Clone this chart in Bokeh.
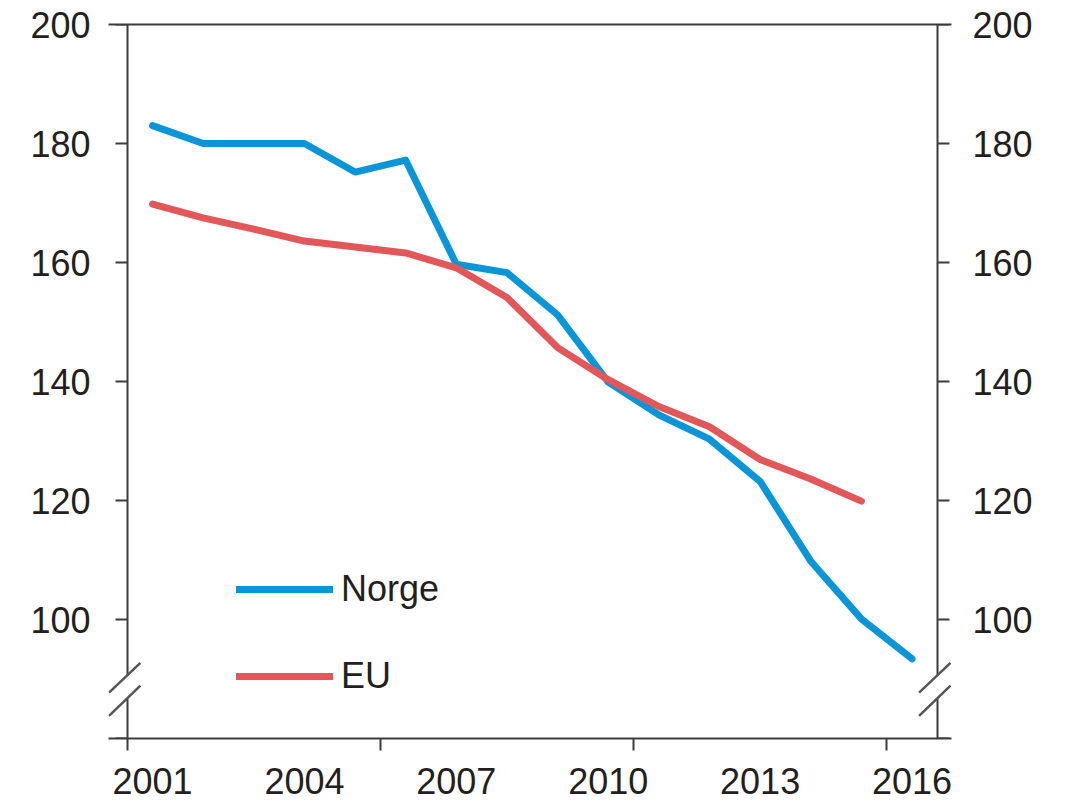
from bokeh.plotting import figure
from bokeh.models import (Range1d, LinearAxis, FixedTicker, Legend, LegendItem,
                          BoxAnnotation, Arrow)
from bokeh.embed import file_html
from bokeh.resources import INLINE

# ---- data ----
norge_years = [2001, 2002, 2003, 2004, 2005, 2006, 2007, 2008, 2009, 2010,
               2011, 2012, 2013, 2014, 2015, 2016]
norge = [183.0, 180.0, 180.0, 180.0, 175.2, 177.2, 159.7, 158.3, 151.2, 139.9,
         134.4, 130.3, 123.2, 109.8, 100.1, 93.4]
eu_years = [2001, 2002, 2003, 2004, 2005, 2006, 2007, 2008, 2009, 2010,
            2011, 2012, 2013, 2014, 2015]
eu = [169.8, 167.5, 165.6, 163.6, 162.6, 161.6, 159.1, 154.1, 145.7, 140.3,
      135.8, 132.4, 126.9, 123.6, 119.9]

x_label_ticks = [2001, 2004, 2007, 2010, 2013, 2016]
x_tick_marks = [2000.5, 2005.5, 2010.5, 2015.5]
y_ticks = [80, 100, 120, 140, 160, 180, 200]

X_MIN, X_MAX = 2000.5, 2016.5
Y_MIN, Y_MAX = 80, 200
PAD_L, PAD_R = 0.37, 0.28   # room (in years) for the axis-break marks

# ---- styles ----
BLUE = "#0a96d6"
RED = "#e2585a"
AXIS = "#3c3c3c"
TEXT = "#231f20"
FONT = "Liberation Sans"
FS = "36px"

p = figure(width=1058, height=803,
           x_range=Range1d(X_MIN - PAD_L, X_MAX + PAD_R), y_range=Range1d(Y_MIN, Y_MAX),
           x_axis_type=None, y_axis_type=None,
           output_backend="svg", toolbar_location=None,
           min_border_left=108, min_border_right=107,
           min_border_top=24, min_border_bottom=65)
p.outline_line_color = None
p.background_fill_color = "white"
p.border_fill_color = "white"


def style_axis(ax):
    ax.axis_line_color = AXIS
    ax.axis_line_width = 2
    ax.major_tick_line_color = AXIS
    ax.major_tick_line_width = 2
    ax.minor_tick_line_color = AXIS
    ax.minor_tick_line_width = 2
    ax.major_label_text_font = FONT
    ax.major_label_text_font_size = FS
    ax.major_label_text_color = TEXT


def no_ticks(ax):
    ax.major_tick_out = 0
    ax.major_tick_in = 0
    ax.minor_tick_out = 0
    ax.minor_tick_in = 0


xaxis = LinearAxis(ticker=FixedTicker(ticks=x_label_ticks, minor_ticks=x_tick_marks))
style_axis(xaxis)
no_ticks(xaxis)
xaxis.minor_tick_out = 12
xaxis.major_label_standoff = 17
p.add_layout(xaxis, "below")

top = LinearAxis(ticker=FixedTicker(ticks=[], minor_ticks=[]))
style_axis(top)
no_ticks(top)
top.major_label_standoff = 0
p.add_layout(top, "above")

# y tick labels (at the frame edges, no line / ticks)
for side, standoff in (("left", 18), ("right", 21)):
    lab = LinearAxis(ticker=FixedTicker(ticks=y_ticks, minor_ticks=[]),
                     major_label_overrides={80: ""})
    style_axis(lab)
    no_ticks(lab)
    lab.axis_line_color = None
    lab.major_label_standoff = standoff
    p.add_layout(lab, side)

# y axis lines and ticks (at the data edges, inside the frame), no labels
for side, loc in (("left", X_MIN), ("right", X_MAX)):
    ax = LinearAxis(ticker=FixedTicker(ticks=y_ticks, minor_ticks=[]),
                    fixed_location=loc,
                    major_label_overrides={t: "" for t in y_ticks})
    style_axis(ax)
    no_ticks(ax)
    ax.major_tick_out = 12
    ax.major_label_standoff = 0
    p.add_layout(ax, side)

# data lines
r_norge = p.line(norge_years, norge, line_color=BLUE, line_width=7,
                 line_join="round", line_cap="round")
r_eu = p.line(eu_years, eu, line_color=RED, line_width=7,
              line_join="round", line_cap="round")

# axis break marks
GAP_LO, GAP_HI = 86.7, 90.5
for xa in (X_MIN, X_MAX):
    p.add_layout(BoxAnnotation(left=xa - 0.06, right=xa + 0.06, bottom=GAP_LO, top=GAP_HI,
                               fill_color="white", fill_alpha=1, line_color=None,
                               level="overlay"))
    for y0, y1 in ((87.7, 92.7), (83.8, 88.9)):
        p.add_layout(Arrow(end=None, x_start=xa - 0.36, y_start=y0,
                           x_end=xa + 0.26, y_end=y1,
                           line_color="#555555", line_width=2.5, level="overlay"))

legend = Legend(items=[LegendItem(label="Norge", renderers=[r_norge]),
                       LegendItem(label="EU", renderers=[r_eu])],
                location=(128, 41), glyph_width=97, glyph_height=40,
                label_height=40, spacing=45, padding=0, margin=0,
                label_standoff=8, border_line_color=None,
                background_fill_alpha=0,
                label_text_font=FONT, label_text_font_size=FS,
                label_text_color=TEXT)
p.add_layout(legend)

open("out.html", "w").write(file_html(p, INLINE))
